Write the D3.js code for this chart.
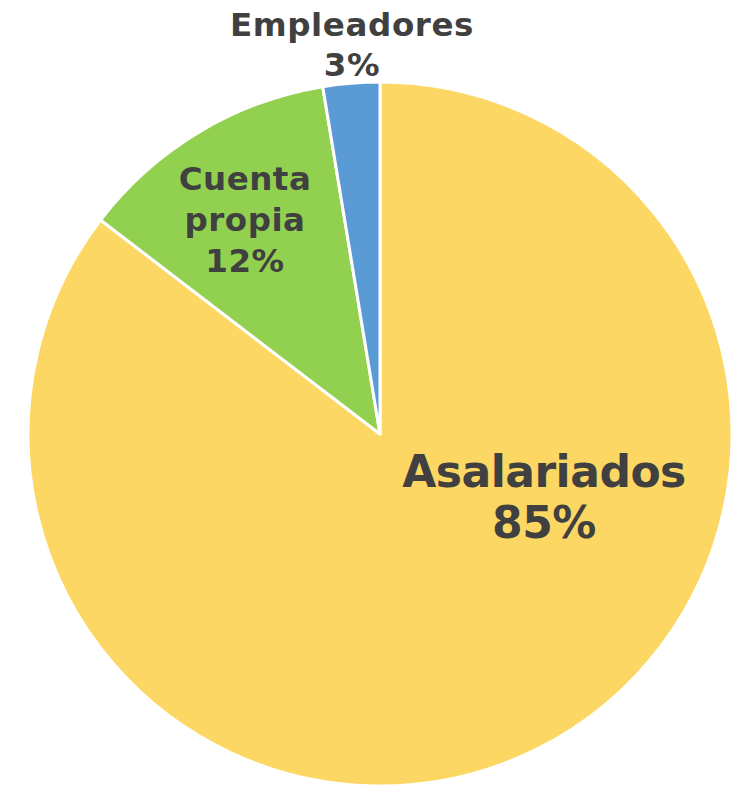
<!DOCTYPE html>
<html>
<head>
<meta charset="utf-8">
<script src="https://cdn.jsdelivr.net/npm/d3@7"></script>
<style>
  html, body { margin: 0; padding: 0; background: #fff; }
  text { font-family: "DejaVu Sans", sans-serif; font-weight: bold; fill: #404040; }
</style>
</head>
<body>
<div id="chart"></div>
<script>
const categories = ["Asalariados", "Cuenta propia", "Empleadores"];
const shares = [85.4, 12.0, 2.6];
const colours = ["#FDD764", "#92D050", "#5B9BD5"];

const w = 739;
const h = 785;
const cx = 380;
const cy = 434;
const radius = 352;

const svg = d3.select("#chart").append("svg").attr("width", w).attr("height", h);
const g = svg.append("g").attr("transform", `translate(${cx},${cy})`);

const pie = d3.pie().sort(null).value((d) => d.value);
const arc = d3.arc().innerRadius(0).outerRadius(radius);

const data = categories.map((c, i) => ({ name: c, value: shares[i], colour: colours[i] }));
const arcs = pie(data);

g.selectAll("path")
  .data(arcs)
  .enter()
  .append("path")
  .attr("d", arc)
  .style("fill", (d) => d.data.colour)
  .style("stroke", "#fff")
  .style("stroke-width", 3)
  .style("stroke-linejoin", "round");

// label layout, offsets from the pie centre (first baseline)
const labelSetup = [
  { dx: 164, dy: 53, size: 44, lh: 51, ls: -0.5, lines: ["Asalariados"] },
  { dx: -135, dy: -244, size: 32.5, lh: 41, ls: 0.5, lines: ["Cuenta", "propia"] },
  { dx: -28, dy: -398, size: 32.5, lh: 40, ls: 0.6, lines: ["Empleadores"] }
];

arcs.forEach((a, i) => {
  const s = labelSetup[i];
  const lines = s.lines.concat([Math.round(a.data.value) + "%"]);
  const t = g.append("text")
    .attr("text-anchor", "middle")
    .style("font-size", s.size + "px")
    .style("letter-spacing", s.ls + "px");
  lines.forEach((l, j) => {
    t.append("tspan").attr("x", s.dx).attr("y", s.dy + j * s.lh).text(l);
  });
});
</script>
</body>
</html>
